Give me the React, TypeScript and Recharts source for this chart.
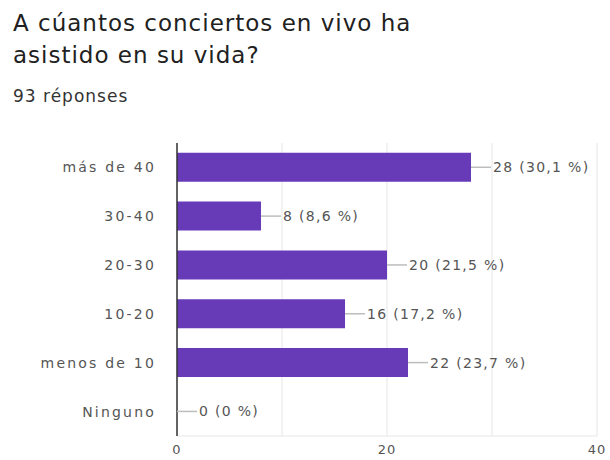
import React from 'react';
import { BarChart, Bar, XAxis, YAxis, CartesianGrid, LabelList } from 'recharts';

const categories = ['más de 40', '30-40', '20-30', '10-20', 'menos de 10', 'Ninguno'];
const counts = [28, 8, 20, 16, 22, 0];
const percents = ['30,1', '8,6', '21,5', '17,2', '23,7', '0'];
const xTicks = [0, 10, 20, 30, 40];

const chartData = categories.map((name, i) => ({ name, count: counts[i], pct: percents[i] }));

const FONT = '"DejaVu Sans", sans-serif';

const BarLabel = (props: any) => {
    const { x, y, width, height, index } = props;
    const endX = x + width;
    const midY = y + height / 2;
    const d = chartData[index];
    return (
        <g>
            <line x1={endX} y1={midY} x2={endX + 20} y2={midY} stroke="#bdbdbd" strokeWidth={1.5} />
            <text x={endX + 22} y={midY} dy="0.35em" fill="#555" fontSize={14} letterSpacing={1.3} fontFamily={FONT}>
                {`${d.count} (${d.pct} %)`}
            </text>
        </g>
    );
};

const App: React.FC = () => {
    return (
        <div style={{ position: 'absolute', left: 0, top: 0, width: 610, height: 460, background: '#fff', fontFamily: FONT }}>
            <div style={{ position: 'absolute', left: 13, top: 7, fontSize: 23, lineHeight: '32px', letterSpacing: 1, color: '#212121' }}>
                A cúantos conciertos en vivo ha<br />asistido en su vida?
            </div>
            <div style={{ position: 'absolute', left: 13, top: 86, fontSize: 17, letterSpacing: 1, color: '#333' }}>
                93 réponses
            </div>
            <div style={{ position: 'absolute', left: 0, top: 0 }}>
                <BarChart
                    width={610}
                    height={460}
                    data={chartData}
                    layout="vertical"
                    margin={{ top: 143, right: 13, left: 0, bottom: 0 }}
                    barCategoryGap="20%"
                >
                    <CartesianGrid horizontal={false} stroke="#e6e6e6" />
                    <XAxis
                        xAxisId="top"
                        orientation="top"
                        type="number"
                        domain={[0, 40]}
                        height={0}
                        tick={false}
                        tickLine={false}
                        axisLine={{ stroke: '#e6e6e6' }}
                    />
                    <XAxis
                        type="number"
                        domain={[0, 40]}
                        ticks={xTicks}
                        tickFormatter={(v) => (v % 20 === 0 ? `${v}` : '')}
                        axisLine={{ stroke: '#e6e6e6' }}
                        tickLine={false}
                        tickMargin={3}
                        height={24}
                        tick={{ fill: '#555', fontSize: 13, fontFamily: FONT, letterSpacing: 1 }}
                    />
                    <YAxis
                        type="category"
                        dataKey="name"
                        width={177}
                        axisLine={{ stroke: '#333', strokeWidth: 1.5 }}
                        tickLine={false}
                        tickMargin={15}
                        tick={{ fill: '#555', fontSize: 14, fontFamily: FONT, letterSpacing: 2.2 }}
                    />
                    <Bar dataKey="count" fill="#673ab7" minPointSize={0.01} isAnimationActive={false}>
                        <LabelList dataKey="count" content={<BarLabel />} />
                    </Bar>
                </BarChart>
            </div>
        </div>
    );
};

export default App;
